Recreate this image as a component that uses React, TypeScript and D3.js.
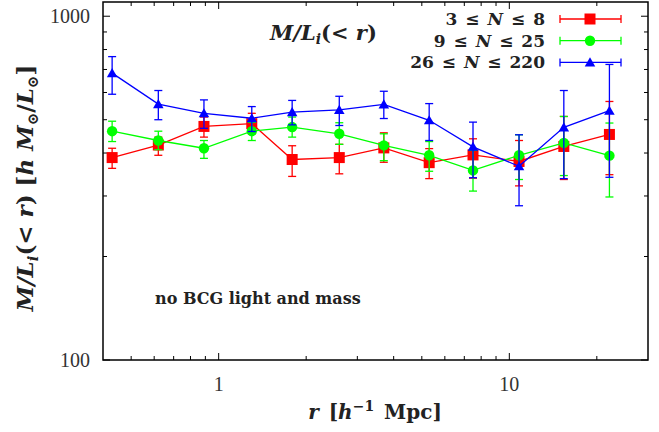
import React, { useEffect, useRef } from 'react';
import * as d3 from 'd3';

// radius bins [h^-1 Mpc]
const radius = [0.43, 0.62, 0.89, 1.3, 1.79, 2.6, 3.7, 5.3, 7.5, 10.8, 15.4, 22.1];

// 3 <= N <= 8
const lowVal = [388, 422, 478, 487, 383, 388, 414, 375, 395, 378, 418, 453];
const lowUp = [413, 445, 509, 522, 420, 424, 458, 412, 440, 435, 511, 565];
const lowDn = [361, 394, 445, 455, 342, 348, 376, 337, 338, 321, 335, 346];

// 9 <= N <= 25
const midVal = [463, 435, 413, 463, 476, 455, 421, 394, 356, 394, 428, 393];
const midUp = [495, 463, 435, 491, 509, 490, 455, 432, 407, 452, 511, 489];
const midDn = [432, 409, 386, 435, 445, 424, 380, 354, 310, 335, 344, 298];

// 26 <= N <= 220
const highVal = [683, 555, 522, 505, 526, 534, 554, 498, 417, 366, 475, 531];
const highUp = [763, 608, 571, 546, 569, 585, 605, 557, 492, 452, 608, 724];
const highDn = [593, 500, 472, 462, 483, 481, 504, 435, 339, 281, 337, 340];

const seriesLabels = ['3 \u2264 N \u2264 8', '9 \u2264 N \u2264 25', '26 \u2264 N \u2264 220'];
const seriesColors = ['#ff0000', '#00ff00', '#0000ff'];
const seriesShapes = ['square', 'circle', 'triangle'];

const xMajor = [1, 10];
const xMinor = [0.5, 0.6, 0.7, 0.8, 0.9, 2, 3, 4, 5, 6, 7, 8, 9, 20];
const yMajor = [100, 1000];
const yMinor = [200, 300, 400, 500, 600, 700, 800, 900];

const W = 659;
const H = 432;
const SERIF = '"DejaVu Serif", "Liberation Serif", serif';
const ROMAN = '"Liberation Serif", "DejaVu Serif", serif';

function App() {
  const ref = useRef<SVGSVGElement>(null);

  useEffect(() => {
    const svg = d3.select(ref.current);
    svg.selectAll('*').remove();

    const left = 103, right = 648, top = 2, bottom = 360;
    const x = d3.scaleLog().domain([0.4, 30]).range([left, right]);
    const y = d3.scaleLog().domain([100, 1100]).range([bottom, top]);

    svg.append('rect').attr('width', W).attr('height', H).attr('fill', '#fff');

    const ax = svg.append('g').attr('stroke', '#000').attr('stroke-width', 1);
    // x ticks, bottom and top
    xMajor.forEach(v => {
      ax.append('line').attr('x1', x(v)).attr('x2', x(v)).attr('y1', bottom).attr('y2', bottom - 7);
      ax.append('line').attr('x1', x(v)).attr('x2', x(v)).attr('y1', top).attr('y2', top + 7);
    });
    xMinor.forEach(v => {
      ax.append('line').attr('x1', x(v)).attr('x2', x(v)).attr('y1', bottom).attr('y2', bottom - 4);
      ax.append('line').attr('x1', x(v)).attr('x2', x(v)).attr('y1', top).attr('y2', top + 4);
    });
    yMajor.forEach(v => {
      ax.append('line').attr('x1', left).attr('x2', left + 7).attr('y1', y(v)).attr('y2', y(v));
      ax.append('line').attr('x1', right).attr('x2', right - 7).attr('y1', y(v)).attr('y2', y(v));
    });
    yMinor.forEach(v => {
      ax.append('line').attr('x1', left).attr('x2', left + 4).attr('y1', y(v)).attr('y2', y(v));
      ax.append('line').attr('x1', right).attr('x2', right - 4).attr('y1', y(v)).attr('y2', y(v));
    });

    const tl = svg.append('g').attr('font-family', ROMAN).attr('font-size', 20).attr('fill', '#333');
    xMajor.forEach(v => {
      tl.append('text').attr('x', x(v)).attr('y', 391).attr('text-anchor', 'middle').text(d3.format('d')(v));
    });
    yMajor.forEach(v => {
      tl.append('text').attr('x', 90).attr('y', y(v) + 7).attr('text-anchor', 'end').text(d3.format('d')(v));
    });

    const series = [
      { val: lowVal, up: lowUp, dn: lowDn },
      { val: midVal, up: midUp, dn: midDn },
      { val: highVal, up: highUp, dn: highDn },
    ];

    const marker = (g: any, shape: string, cx: number, cy: number, color: string) => {
      if (shape === 'square') {
        g.append('rect').attr('x', cx - 5.5).attr('y', cy - 5.5).attr('width', 11).attr('height', 11).attr('fill', color);
      } else if (shape === 'circle') {
        g.append('circle').attr('cx', cx).attr('cy', cy).attr('r', 5.2).attr('fill', color);
      } else {
        const sym = d3.symbol().type(d3.symbolTriangle).size(48);
        g.append('path').attr('d', sym()).attr('transform', `translate(${cx},${cy + 1})`).attr('fill', color);
      }
    };

    const line = d3.line<number>().x((_, i) => x(radius[i])).y(d => y(d));

    series.forEach((s, k) => {
      const color = seriesColors[k];
      const g = svg.append('g');
      g.append('path').attr('d', line(s.val)).attr('fill', 'none').attr('stroke', color).attr('stroke-width', 1.3);
      radius.forEach((r, i) => {
        const cx = x(r);
        g.append('line').attr('x1', cx).attr('x2', cx).attr('y1', y(s.up[i])).attr('y2', y(s.dn[i]))
          .attr('stroke', color).attr('stroke-width', 1.3);
        [s.up[i], s.dn[i]].forEach(v => {
          g.append('line').attr('x1', cx - 4).attr('x2', cx + 4).attr('y1', y(v)).attr('y2', y(v))
            .attr('stroke', color).attr('stroke-width', 1.3);
        });
        marker(g, seriesShapes[k], cx, y(s.val[i]), color);
      });
    });

    // legend
    const lg = svg.append('g').attr('font-family', SERIF).attr('font-size', 17).attr('font-weight', 'bold')
      .attr('fill', '#222').attr('word-spacing', 2);
    seriesLabels.forEach((lab, k) => {
      const ly = 19 + k * 21.7;
      const color = seriesColors[k];
      const parts = lab.split('N');
      const t = lg.append('text').attr('x', 545).attr('y', ly + 6).attr('text-anchor', 'end');
      t.append('tspan').text(parts[0]);
      t.append('tspan').attr('font-style', 'italic').text('N');
      t.append('tspan').text(parts[1]);
      lg.append('line').attr('x1', 560).attr('x2', 621).attr('y1', ly).attr('y2', ly).attr('stroke', color).attr('stroke-width', 1.3);
      [560, 621].forEach(ex => {
        lg.append('line').attr('x1', ex).attr('x2', ex).attr('y1', ly - 4).attr('y2', ly + 4).attr('stroke', color).attr('stroke-width', 1.3);
      });
      marker(lg, seriesShapes[k], 590, ly, color);
    });

    // inset title
    const title = svg.append('text').attr('x', 270).attr('y', 40).attr('font-family', SERIF).attr('font-size', 21)
      .attr('font-weight', 'bold').attr('font-style', 'italic').attr('fill', '#222');
    title.append('tspan').text('M/L');
    title.append('tspan').attr('font-size', 14).attr('dy', 4).text('i');
    title.append('tspan').attr('dy', -4).attr('font-style', 'normal').text('(< ');
    title.append('tspan').text('r');
    title.append('tspan').attr('font-style', 'normal').text(')');

    svg.append('text').attr('x', 155).attr('y', 304).attr('font-family', SERIF).attr('font-size', 16)
      .attr('font-weight', 'bold').attr('fill', '#222').text('no BCG light and mass');

    // axis labels
    const xl = svg.append('text').attr('x', 375).attr('y', 419).attr('text-anchor', 'middle').attr('font-family', SERIF)
      .attr('font-size', 20).attr('font-weight', 'bold').attr('fill', '#222').attr('word-spacing', 3);
    xl.append('tspan').attr('font-style', 'italic').text('r');
    xl.append('tspan').text(' [');
    xl.append('tspan').attr('font-style', 'italic').text('h');
    xl.append('tspan').attr('font-size', 14).attr('dy', -8).text('\u22121');
    xl.append('tspan').attr('dy', 8).text(' Mpc]');

    const yl = svg.append('text').attr('transform', 'translate(33,188) rotate(-90)').attr('text-anchor', 'middle')
      .attr('font-family', SERIF).attr('font-size', 23).attr('font-weight', 'bold').attr('fill', '#222');
    yl.append('tspan').attr('font-style', 'italic').text('M/L');
    yl.append('tspan').attr('font-style', 'italic').attr('font-size', 15).attr('dy', 5).text('i');
    yl.append('tspan').attr('dy', -5).text('(< ');
    yl.append('tspan').attr('font-style', 'italic').text('r');
    yl.append('tspan').text(') [');
    yl.append('tspan').attr('font-style', 'italic').text('h M');
    yl.append('tspan').attr('font-size', 15).attr('dy', 5).text('\u2299');
    yl.append('tspan').attr('dy', -5).text('/');
    yl.append('tspan').attr('font-style', 'italic').text('L');
    yl.append('tspan').attr('font-size', 15).attr('dy', 5).text('\u2299');
    yl.append('tspan').attr('dy', -5).text(']');

    // frame
    svg.append('rect').attr('x', left).attr('y', top).attr('width', right - left).attr('height', bottom - top)
      .attr('fill', 'none').attr('stroke', '#000').attr('stroke-width', 1.5);
  }, []);

  return <svg ref={ref} width={W} height={H} style={{ position: 'absolute', left: 0, top: 0 }}></svg>;
}

export default App;
